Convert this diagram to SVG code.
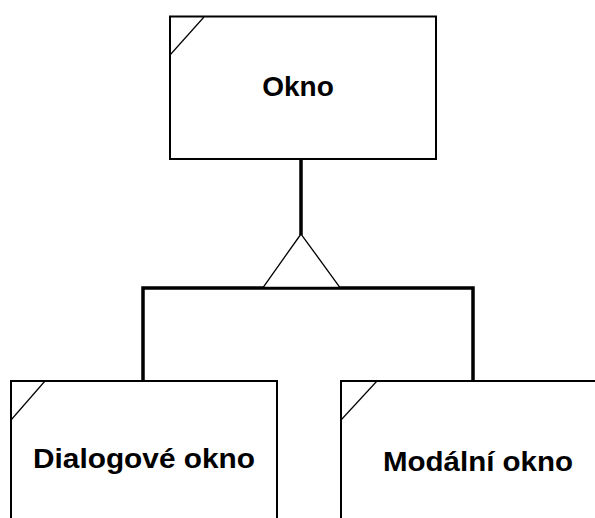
<svg xmlns="http://www.w3.org/2000/svg" width="595" height="518" viewBox="0 0 595 518">
<style>
.box{fill:#fff;stroke:#000;stroke-width:2}
.corner{stroke:#000;stroke-width:1.2;fill:none}
.lbl{font-family:"Liberation Sans",Arial,sans-serif;font-weight:bold;font-size:28px;fill:#000;text-anchor:middle}
.conn{stroke:#000;stroke-width:3.5;fill:none}
.tri{fill:#fff;stroke:#000;stroke-width:1.3}
</style>
<rect width="595" height="518" fill="#fff"/>
<g id="connectors">
<line class="conn" x1="301" y1="159" x2="301" y2="235"/>
<polyline class="conn" points="143,381 143,288 473,288 473,381"/>
<polygon class="tri" points="301,234 263,287.5 340,287.5"/>
</g>
<g id="okno">
<rect class="box" x="170" y="16.5" width="266" height="142.5"/>
<line class="corner" x1="204" y1="17" x2="170" y2="55"/>
<text class="lbl" x="298" y="96">Okno</text>
</g>
<g id="dialogove-okno">
<rect class="box" x="11" y="381" width="266" height="160"/>
<line class="corner" x1="45" y1="381" x2="11" y2="420"/>
<text class="lbl" x="144" y="468" textLength="222" lengthAdjust="spacingAndGlyphs">Dialogové okno</text>
</g>
<g id="modalni-okno">
<rect class="box" x="341" y="381" width="266" height="160"/>
<line class="corner" x1="377" y1="381" x2="341" y2="420"/>
<text class="lbl" x="478" y="471" textLength="190" lengthAdjust="spacingAndGlyphs">Modální okno</text>
</g>
</svg>
